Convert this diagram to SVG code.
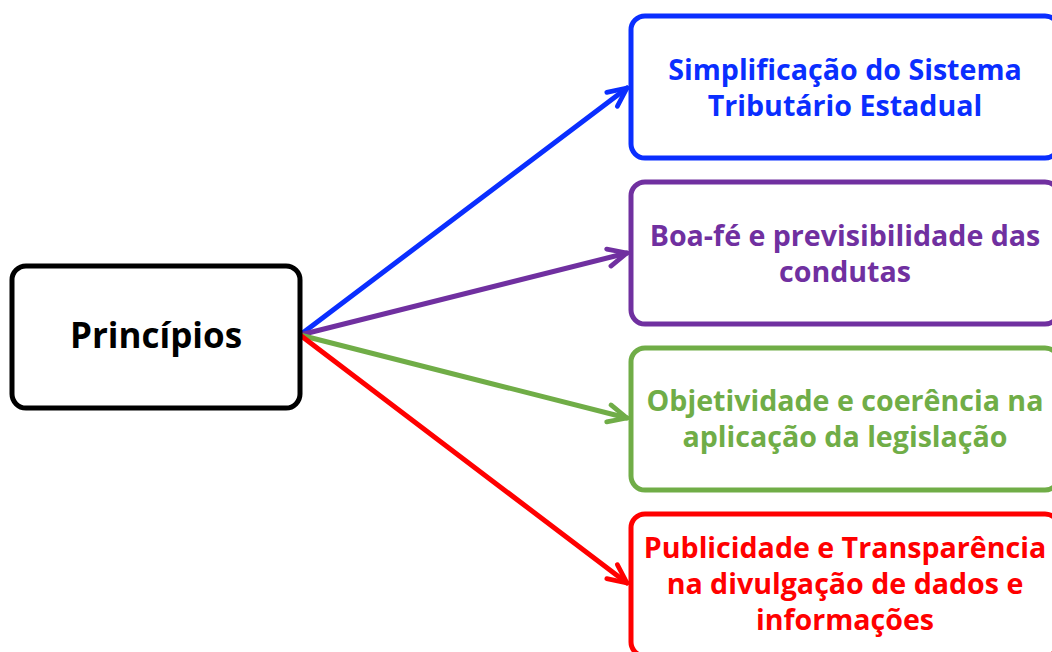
<svg xmlns="http://www.w3.org/2000/svg" width="1052" height="652" viewBox="0 0 1052 652">
<style>
.box{fill:#fff;stroke-width:5}
.t{font-family:"Open Sans","Liberation Sans",sans-serif;font-weight:bold;text-anchor:middle}
.c{fill:none;stroke-width:5;stroke-linecap:round}
</style>
<defs>
<marker id="mb" viewBox="0 0 10 10" refX="9" refY="5" markerWidth="5" markerHeight="5" orient="auto" markerUnits="strokeWidth"><path d="M1.5,1.5 L9,5 L1.5,8.5" fill="none" stroke="#0A2EFF" stroke-width="1.9" stroke-linecap="round" stroke-linejoin="round"/></marker>
<marker id="mp" viewBox="0 0 10 10" refX="9" refY="5" markerWidth="5" markerHeight="5" orient="auto" markerUnits="strokeWidth"><path d="M1.5,1.5 L9,5 L1.5,8.5" fill="none" stroke="#7030A0" stroke-width="1.9" stroke-linecap="round" stroke-linejoin="round"/></marker>
<marker id="mg" viewBox="0 0 10 10" refX="9" refY="5" markerWidth="5" markerHeight="5" orient="auto" markerUnits="strokeWidth"><path d="M1.5,1.5 L9,5 L1.5,8.5" fill="none" stroke="#70AD47" stroke-width="1.9" stroke-linecap="round" stroke-linejoin="round"/></marker>
<marker id="mr" viewBox="0 0 10 10" refX="9" refY="5" markerWidth="5" markerHeight="5" orient="auto" markerUnits="strokeWidth"><path d="M1.5,1.5 L9,5 L1.5,8.5" fill="none" stroke="#FF0000" stroke-width="1.9" stroke-linecap="round" stroke-linejoin="round"/></marker>
</defs>
<rect width="1052" height="652" fill="#fff"/>
<g id="connectors">
<line class="c" x1="300" y1="335" x2="627" y2="88" stroke="#0A2EFF" marker-end="url(#mb)"/>
<line class="c" x1="300" y1="335" x2="627" y2="253" stroke="#7030A0" marker-end="url(#mp)"/>
<line class="c" x1="300" y1="335" x2="627" y2="418" stroke="#70AD47" marker-end="url(#mg)"/>
<line class="c" x1="300" y1="335" x2="627" y2="583" stroke="#FF0000" marker-end="url(#mr)"/>
</g>
<g id="principios">
<rect class="box" x="12" y="266" width="288" height="142" rx="14" stroke="#000"/>
<text class="t" x="156" y="348" font-size="35" fill="#000">Princípios</text>
</g>
<g id="simplificacao">
<rect class="box" x="631" y="16" width="428" height="142" rx="14" stroke="#0A2EFF"/>
<text class="t" font-size="28.6" fill="#0A2EFF"><tspan x="845" y="80">Simplificação do Sistema</tspan><tspan x="845" y="116">Tributário Estadual</tspan></text>
</g>
<g id="boafe">
<rect class="box" x="631" y="182" width="428" height="142" rx="14" stroke="#7030A0"/>
<text class="t" font-size="28.6" fill="#7030A0"><tspan x="845" y="246">Boa-fé e previsibilidade das</tspan><tspan x="845" y="282">condutas</tspan></text>
</g>
<g id="objetividade">
<rect class="box" x="631" y="348" width="428" height="142" rx="14" stroke="#70AD47"/>
<text class="t" font-size="28.6" fill="#70AD47"><tspan x="845" y="411">Objetividade e coerência na</tspan><tspan x="845" y="447">aplicação da legislação</tspan></text>
</g>
<g id="publicidade">
<rect class="box" x="631" y="514" width="428" height="142" rx="14" stroke="#FF0000"/>
<text class="t" font-size="28.6" fill="#FF0000"><tspan x="845" y="558">Publicidade e Transparência</tspan><tspan x="845" y="594">na divulgação de dados e</tspan><tspan x="845" y="630">informações</tspan></text>
</g>
</svg>
